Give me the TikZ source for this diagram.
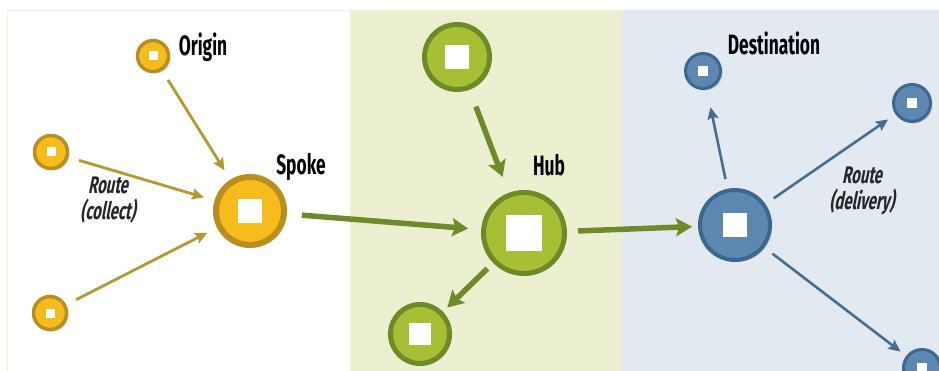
\documentclass[tikz,border=0pt]{standalone}
\usepackage{fontspec}
\usetikzlibrary{shapes, arrows.meta, shadows}
\newfontfamily\tagfont[FakeStretch=0.62]{Fira Sans}
\newfontfamily\routefont[FakeStretch=0.62, FakeSlant=0.2]{Fira Sans}

\definecolor{spokefill}{HTML}{F5BC1C}
\definecolor{spokering}{HTML}{BA8E1E}
\definecolor{collectline}{HTML}{B59A2B}
\definecolor{hubfill}{HTML}{A6BF35}
\definecolor{hubring}{HTML}{6E8A25}
\definecolor{hubline}{HTML}{6F8A2A}
\definecolor{destfill}{HTML}{5B87B0}
\definecolor{destring}{HTML}{3B6890}
\definecolor{destline}{HTML}{456E93}
\definecolor{hubpanel}{HTML}{ECEFD0}
\definecolor{destpanel}{HTML}{E3E9F0}
\definecolor{edgeline}{HTML}{F3F0DC}

\tikzset{hole/.style={path picture={\fill[white] ([shift={(-#1,-#1)}]path picture bounding box.center) rectangle ([shift={(#1,#1)}]path picture bounding box.center);}}}

\begin{document}
\begin{tikzpicture}[x=1pt, y=-1pt]
        \tikzstyle{spot} = [circle, inner sep=0pt, drop shadow={shadow xshift=2pt, shadow yshift=-2pt, opacity=0.35}]
        \tikzstyle{yspot} = [spot, fill=spokefill, draw=spokering]
        \tikzstyle{gspot} = [spot, fill=hubfill, draw=hubring, line width=5pt]
        \tikzstyle{bspot} = [spot, fill=destfill, draw=destring]
        \tikzstyle{tag} = [font=\tagfont\bfseries\fontsize{28}{30}\selectfont, text=black]
        \tikzstyle{routetag} = [font=\routefont\bfseries\fontsize{24}{26}\selectfont, text=black!85, align=center]
        \tikzstyle{yarrow} = [draw=collectline, line width=2.8pt, -{Stealth[length=12pt, width=11pt, inset=2pt]}, shorten <=11pt, shorten >=11pt]
        \tikzstyle{garrow} = [draw=hubline, line width=5.5pt, -{Stealth[length=16pt, width=18pt, inset=3pt]}]
        \tikzstyle{barrow} = [draw=destline, line width=2.6pt, -{Stealth[length=12pt, width=11pt, inset=2pt]}, shorten <=10pt, shorten >=9pt]

        \useasboundingbox (0,0) rectangle (939,371);
        % panels
        \fill[white] (0,0) rectangle (939,371);
        \draw[edgeline, fill=white] (7,10) rectangle (350,371);
        \fill[hubpanel] (350,10) rectangle (622,371);
        \fill[destpanel] (622,10) rectangle (939,371);

        % spoke side
        \node (origin) [yspot, line width=3.5pt, minimum size=31pt, hole=4.5] at (153,56) {};
        \node (collecta) [yspot, line width=3.5pt, minimum size=33pt, hole=4.5] at (51,152) {};
        \node (collectb) [yspot, line width=3.5pt, minimum size=33pt, hole=4.5] at (50,313) {};
        \node (spoke) [yspot, line width=6pt, minimum size=68pt, hole=12] at (250,211) {};

        % hub side
        \node (feeder) [gspot, minimum size=65pt, hole=12] at (457,57) {};
        \node (hub) [gspot, minimum size=81pt, hole=18] at (524,233) {};
        \node (branch) [gspot, minimum size=59pt, hole=11] at (420,334) {};

        % destination side
        \node (dhub) [bspot, line width=4pt, minimum size=70pt, hole=12] at (735,225) {};
        \node (desta) [bspot, line width=3pt, minimum size=35pt, hole=5] at (703,71) {};
        \node (destb) [bspot, line width=3pt, minimum size=37pt, hole=5] at (912,103) {};
        \node (destc) [bspot, line width=3pt, minimum size=37pt, hole=5] at (922,368) {};

        % labels
        \node (origintag) [tag] at (203,47) {Origin};
        \node (spoketag) [tag] at (301,167) {Spoke};
        \node (hubtag) [tag] at (549,165) {Hub};
        \node (desttag) [tag] at (774,43) {Destination};
        \node (collecttag) [routetag] at (108,200) {Route\\(collect)};
        \node (deliverytag) [routetag] at (862,191) {Route\\(delivery)};

        % routes
        \draw[yarrow] (origin) -- (spoke);
        \draw[yarrow] (collecta) -- (spoke);
        \draw[yarrow] (collectb) -- (spoke);
        \draw[garrow, shorten <=15pt, shorten >=13pt] (spoke) -- (hub);
        \draw[garrow, shorten <=18pt, shorten >=17pt] (feeder) -- (hub);
        \draw[garrow, shorten <=8pt, shorten >=6pt] (hub) -- (branch);
        \draw[garrow, shorten <=11pt, shorten >=6pt] (hub) -- (dhub);
        \draw[barrow, shorten >=18pt] (dhub) -- (desta);
        \draw[barrow] (dhub) -- (destb);
        \draw[barrow, shorten >=7pt] (dhub) -- (destc);
    \end{tikzpicture}
\end{document}
